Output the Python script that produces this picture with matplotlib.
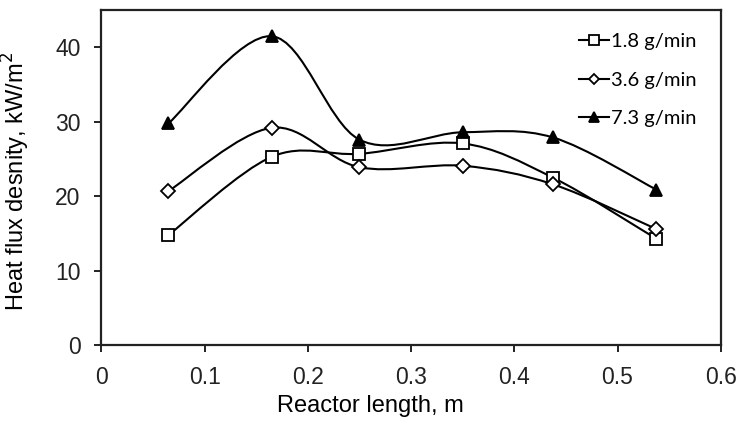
import numpy as np
import matplotlib.pyplot as plt
from matplotlib.path import Path
from matplotlib.patches import PathPatch
from matplotlib.lines import Line2D

# reactor positions (m)
length = [0.065, 0.165, 0.25, 0.35, 0.4375, 0.5375]

# heat flux density, kW/m2
flux_18 = [14.8, 25.3, 25.7, 27.1, 22.5, 14.3]
flux_36 = [20.7, 29.2, 23.9, 24.1, 21.6, 15.6]
flux_73 = [29.8, 41.5, 27.6, 28.6, 27.9, 20.9]

labels = ['1.8 g/min', '3.6 g/min', '7.3 g/min']


def smooth_path(x, y):
	# excel-style smoothed line: catmull-rom turned into bezier segments
	x = np.asarray(x, float)
	y = np.asarray(y, float)
	n = len(x)
	verts = [(x[0], y[0])]
	codes = [Path.MOVETO]
	for i in range(n - 1):
		i0 = max(i - 1, 0)
		i3 = min(i + 2, n - 1)
		c1 = (x[i] + (x[i+1] - x[i0]) / 6, y[i] + (y[i+1] - y[i0]) / 6)
		c2 = (x[i+1] - (x[i3] - x[i]) / 6, y[i+1] - (y[i3] - y[i]) / 6)
		verts += [c1, c2, (x[i+1], y[i+1])]
		codes += [Path.CURVE4] * 3
	return Path(verts, codes)


plt.rcParams['font.family'] = ['Liberation Sans', 'DejaVu Sans']

fig = plt.figure(figsize=(7.4, 4.24), dpi=100)
ax = fig.add_axes([0.137, 0.186, 0.837, 0.79])

series = [(flux_18, 's', 'white', 9), (flux_36, 'D', 'white', 7), (flux_73, '^', 'black', 9)]
handles = []
for (vals, mk, fc, ms), lab in zip(series, labels):
	ax.add_patch(PathPatch(smooth_path(length, vals), fill=False, lw=1.5,
						   edgecolor='black', zorder=2))
	ax.plot(length, vals, linestyle='none', marker=mk, ms=ms, mfc=fc,
			mec='black', mew=1.3, zorder=3)
	handles.append(Line2D([], [], color='black', lw=1.5, marker=mk, ms=ms - 2,
						  mfc=fc, mec='black', mew=1.3, label=lab))

ax.set_xlim(0, 0.6)
ax.set_ylim(0, 45)
ax.set_xticks(np.arange(0, 0.61, 0.1))
ax.set_xticklabels(['0', '0.1', '0.2', '0.3', '0.4', '0.5', '0.6'])
ax.set_yticks([0, 10, 20, 30, 40])

for s in ax.spines.values():
	s.set_linewidth(1.6)
	s.set_color('#222222')
ax.tick_params(direction='out', length=5, width=1.4, labelsize=16.5, colors='#222222')
ax.tick_params(axis='x', pad=10)
ax.tick_params(axis='y', pad=10)

ax.set_xlabel('Reactor length, m', fontsize=17)
ax.xaxis.set_label_coords(0.435, -0.148)
ax.set_ylabel('Heat flux desnity, kW/m$^2$', fontsize=17)
ax.yaxis.set_label_coords(-0.112, 0.49)

leg = ax.legend(handles=handles, loc='upper right', frameon=False,
				handlelength=1.5, handletextpad=0.1, labelspacing=1.05,
				prop={'family': ['Lato', 'DejaVu Sans'], 'size': 14.5},
				bbox_to_anchor=(0.99, 0.985))

fig.savefig('out.png', dpi=100)
